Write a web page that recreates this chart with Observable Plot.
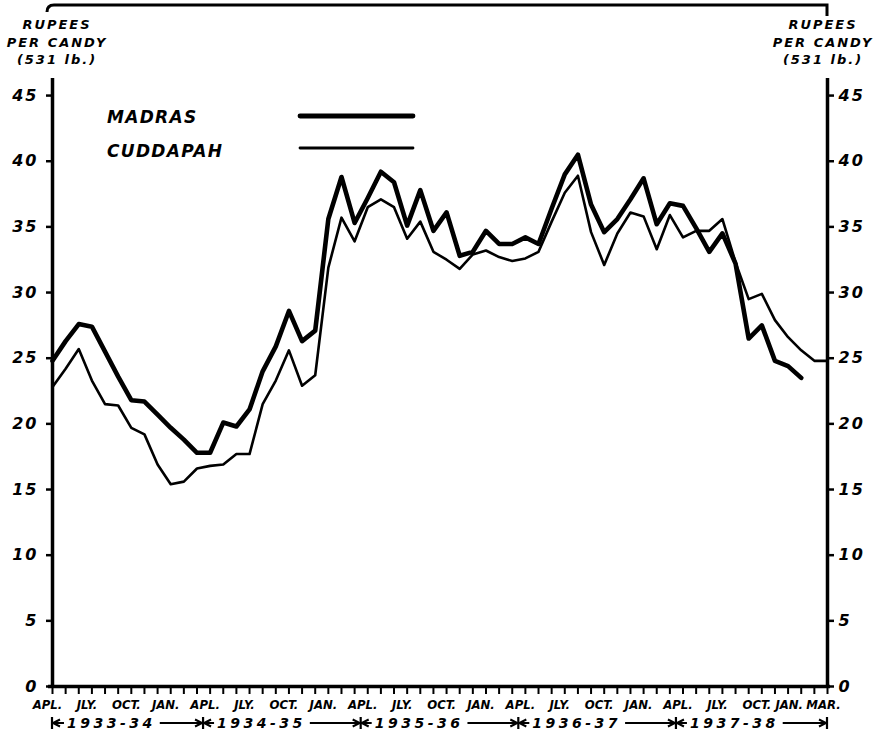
<!DOCTYPE html>
<html>
<head>
<meta charset="utf-8">
<script src="https://cdn.jsdelivr.net/npm/d3@7"></script>
<script src="https://cdn.jsdelivr.net/npm/@observablehq/plot@0.6"></script>
<style>
  html, body { margin: 0; padding: 0; background: #fff; }
  #chart svg { display: block; }
</style>
</head>
<body>
<div id="chart"></div>
<script>
// Monthly groundnut prices, April 1933 to March 1938, rupees per candy (531 lb.)
const madras = [
  24.8, 26.3, 27.6, 27.4, 25.5, 23.6, 21.8, 21.7, 20.7, 19.7, 18.8, 17.8,
  17.8, 20.1, 19.8, 21.1, 24.0, 25.9, 28.6, 26.3, 27.1, 35.6, 38.8, 35.3,
  37.2, 39.2, 38.4, 35.1, 37.8, 34.7, 36.1, 32.8, 33.1, 34.7, 33.7, 33.7,
  34.2, 33.7, 36.4, 39.0, 40.5, 36.7, 34.6, 35.6, 37.1, 38.7, 35.2, 36.8,
  36.6, 34.9, 33.1, 34.5, 32.2, 26.5, 27.5, 24.8, 24.4, 23.5
];
const cuddapah = [
  22.8, 24.2, 25.7, 23.3, 21.5, 21.4, 19.7, 19.2, 16.9, 15.4, 15.6, 16.6,
  16.8, 16.9, 17.7, 17.7, 21.5, 23.3, 25.6, 22.9, 23.7, 31.9, 35.7, 33.9,
  36.5, 37.1, 36.5, 34.1, 35.4, 33.1, 32.5, 31.8, 32.9, 33.2, 32.7, 32.4,
  32.6, 33.1, 35.4, 37.6, 38.9, 34.6, 32.1, 34.5, 36.1, 35.8, 33.3, 35.9,
  34.2, 34.7, 34.7, 35.6, 32.3, 29.5, 29.9, 27.9, 26.6, 25.6, 24.8, 24.8
];
const seriesNames = ["MADRAS", "CUDDAPAH"];
const seasons = ["1933-34", "1934-35", "1935-36", "1936-37", "1937-38"];
const quarterLabels = ["APL.", "JLY.", "OCT.", "JAN."];
const lastMonthLabel = "MAR.";
const yTicks = [0, 5, 10, 15, 20, 25, 30, 35, 40, 45];
const unitLines = ["RUPEES", "PER CANDY", "(531 lb.)"];

const FONT = "'DejaVu Sans', 'Liberation Sans', sans-serif";
const NARROW = "'DejaVu Sans Condensed', 'Liberation Sans Narrow', 'DejaVu Sans', sans-serif";
const nMonths = seasons.length * 12;

const rows = [
  ...madras.map((value, month) => ({series: seriesNames[0], month, value})),
  ...cuddapah.map((value, month) => ({series: seriesNames[1], month, value}))
];
const labelMonths = d3.range(0, nMonths, 3).concat([nMonths - 1]);
const monthLabel = m => m === nMonths - 1 ? lastMonthLabel : quarterLabels[(m / 3) % 4];

const labelStyle = {fontWeight: "bold", fontStyle: "italic", fill: "black"};

const chart = Plot.plot({
  width: 889,
  height: 742,
  marginLeft: 52,
  marginRight: 62,
  marginTop: 78,
  marginBottom: 56,
  x: {domain: [0, nMonths - 1]},
  y: {domain: [0, 46.3]},
  style: {background: "white", color: "black", fontFamily: FONT},
  marks: [
    Plot.axisY(yTicks, {anchor: "left", label: null, tickSize: 6, tickPadding: 8, strokeWidth: 2.5, fontSize: 16, ...labelStyle}),
    Plot.axisY(yTicks, {anchor: "right", label: null, tickSize: 6, tickPadding: 5, strokeWidth: 2.5, fontSize: 16, ...labelStyle}),
    Plot.axisX(d3.range(nMonths), {anchor: "bottom", label: null, tickSize: 8, strokeWidth: 2, tickFormat: () => ""}),
    Plot.axisX(labelMonths, {anchor: "bottom", label: null, tickSize: 0, tickPadding: 13, tickFormat: monthLabel,
      fontSize: 13, fontFamily: NARROW, dx: -5, ...labelStyle}),
    Plot.ruleX([0, nMonths - 1], {strokeWidth: 3.5}),
    Plot.ruleY([0], {strokeWidth: 3.5, insetLeft: -4, insetRight: -3}),
    Plot.line(rows.filter(d => d.series === seriesNames[1]), {
      x: "month", y: "value", stroke: "black", strokeWidth: 2.6, strokeLinejoin: "round", strokeLinecap: "round"
    }),
    Plot.line(rows.filter(d => d.series === seriesNames[0]), {
      x: "month", y: "value", stroke: "black", strokeWidth: 4.6, strokeLinejoin: "round", strokeLinecap: "round"
    })
  ]
});
document.getElementById("chart").appendChild(chart);

const svg = d3.select(chart);
const xs = v => chart.scale("x").apply(v);
const ys = v => chart.scale("y").apply(v);

svg.selectAll('g[aria-label="y-axis tick label"] text').attr("letter-spacing", 2);
// squeeze the closing pair of month labels apart
const monthTexts = svg.selectAll('g[aria-label="x-axis tick label"] text').nodes();
if (monthTexts.length >= 2) {
  d3.select(monthTexts[monthTexts.length - 2]).attr("dx", -7);
  d3.select(monthTexts[monthTexts.length - 1]).attr("dx", 1);
}

const x0 = xs(0), x1 = xs(nMonths - 1), yBase = ys(0);

// frame rule across the top
svg.append("path")
  .attr("d", `M${x0 - 5},12 Q${x0 - 5},5 ${x0 + 2},5 L${x1},5 L${x1},16`)
  .attr("fill", "none").attr("stroke", "black").attr("stroke-width", 3);

// unit captions over both value axes
function unitCaption(cx) {
  const g = svg.append("g")
    .attr("font-family", FONT).attr("font-weight", "bold").attr("font-style", "italic")
    .attr("font-size", 13).attr("text-anchor", "middle").attr("letter-spacing", 2);
  unitLines.forEach((t, i) => g.append("text").attr("x", cx).attr("y", 29 + i * 17.5).text(t));
}
unitCaption(x0 + 5);
unitCaption(x1 - 4);

// legend
const legend = svg.append("g")
  .attr("font-family", FONT).attr("font-weight", "bold").attr("font-style", "italic")
  .attr("font-size", 17).attr("letter-spacing", 1.3).attr("text-anchor", "start");
[[seriesNames[0], 123, 116, 4.8], [seriesNames[1], 157, 148, 2.8]].forEach(([name, ty, ly, w]) => {
  legend.append("text").attr("x", 107).attr("y", ty).text(name);
  legend.append("line").attr("x1", 300).attr("x2", 413).attr("y1", ly).attr("y2", ly)
    .attr("stroke", "black").attr("stroke-width", w).attr("stroke-linecap", "round");
});

// season spans below the month labels
const rowY = yBase + 37;
const yearRow = svg.append("g")
  .attr("font-family", FONT).attr("font-weight", "bold").attr("font-style", "italic")
  .attr("font-size", 14).attr("letter-spacing", 3.5).attr("text-anchor", "start");
const bounds = seasons.map((s, i) => [Math.max(0, i * 12 - 0.5), Math.min(nMonths - 1, i * 12 + 11.5)]);

function arrow(fromX, toX) {
  yearRow.append("line").attr("x1", fromX).attr("x2", toX).attr("y1", rowY).attr("y2", rowY)
    .attr("stroke", "black").attr("stroke-width", 2);
  const d = toX > fromX ? -1 : 1;
  yearRow.append("path")
    .attr("d", `M${toX + d * 7},${rowY - 3.5} L${toX},${rowY} L${toX + d * 7},${rowY + 3.5}`)
    .attr("fill", "none").attr("stroke", "black").attr("stroke-width", 2);
}

seasons.forEach((s, i) => {
  const bx0 = xs(bounds[i][0]), bx1 = xs(bounds[i][1]);
  const tx = bx0 + (i === 0 ? 15 : 14);
  const t = yearRow.append("text").attr("x", tx).attr("y", rowY + 5).text(s);
  const tw = t.node().getComputedTextLength();
  arrow(tx - 3, bx0 + 1);
  arrow(tx + tw + 4, bx1 - 1);
});
[0, ...bounds.map(b => b[1])].forEach(m => {
  yearRow.append("line").attr("x1", xs(m)).attr("x2", xs(m)).attr("y1", rowY - 6).attr("y2", rowY + 6)
    .attr("stroke", "black").attr("stroke-width", 2.2);
});
</script>
</body>
</html>
